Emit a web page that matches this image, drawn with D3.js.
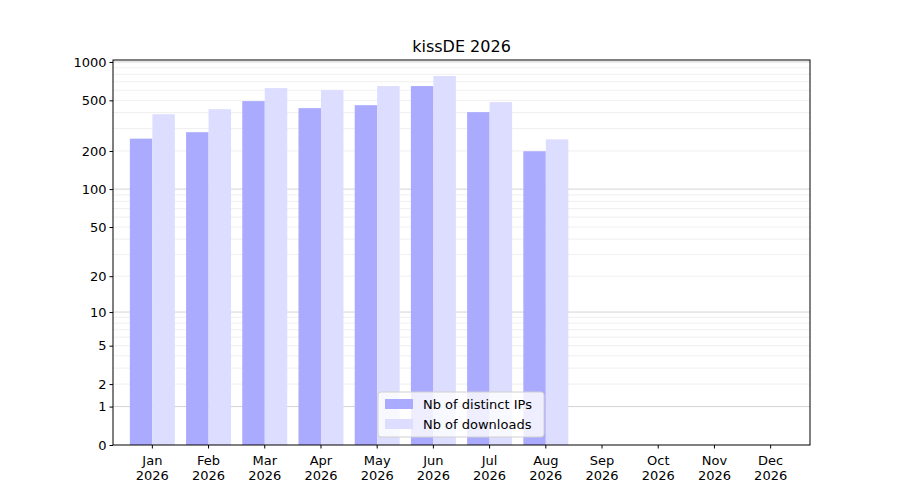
<!DOCTYPE html>
<html>
<head>
<meta charset="utf-8">
<script src="https://cdn.jsdelivr.net/npm/d3@7"></script>
<style>
body { margin: 0; background: #fff; }
text { font-family: "DejaVu Sans", sans-serif; }
</style>
</head>
<body>
<div id="chart-area"></div>
<script>
let data = [
	{month: "Jan", ips: 250, downloads: 389},
	{month: "Feb", ips: 281, downloads: 426},
	{month: "Mar", ips: 493, downloads: 624},
	{month: "Apr", ips: 434, downloads: 602},
	{month: "May", ips: 458, downloads: 647},
	{month: "Jun", ips: 647, downloads: 776},
	{month: "Jul", ips: 404, downloads: 484},
	{month: "Aug", ips: 199, downloads: 247},
	{month: "Sep", ips: 0, downloads: 0},
	{month: "Oct", ips: 0, downloads: 0},
	{month: "Nov", ips: 0, downloads: 0},
	{month: "Dec", ips: 0, downloads: 0}
];

let margin = {top: 60, right: 90, bottom: 55, left: 113},
	width = 900 - margin.left - margin.right,
	height = 500 - margin.top - margin.bottom;

let svg = d3.select("#chart-area").append("svg")
	.attr("width", 900)
	.attr("height", 500)
	.append("g")
	.attr("transform", "translate(" + margin.left + "," + margin.top + ")");

let x = d3.scaleBand()
	.domain(data.map(d => d.month))
	.range([0, width])
	.paddingInner(0.2)
	.paddingOuter(0.3);

let y = d3.scaleSymlog().constant(1)
	.domain([0, 1036])
	.range([height, 0]);

// Grid lines
let minor = [];
[1, 10, 100].forEach(b => { for (let k = 2; k <= 9; k++) minor.push(b * k); });
svg.selectAll(".minor").data(minor).enter().append("line")
	.attr("x1", 0).attr("x2", width)
	.attr("y1", d => y(d)).attr("y2", d => y(d))
	.attr("stroke", "#ebebeb").attr("stroke-width", 0.8);
svg.selectAll(".major").data([1, 10, 100, 1000]).enter().append("line")
	.attr("x1", 0).attr("x2", width)
	.attr("y1", d => y(d)).attr("y2", d => y(d))
	.attr("stroke", "#c8c8c8").attr("stroke-width", 0.8);

let bw = x.bandwidth() / 2;

svg.selectAll(".ips").data(data).enter().append("rect")
	.attr("x", d => x(d.month))
	.attr("y", d => y(d.ips))
	.attr("width", bw)
	.attr("height", d => height - y(d.ips))
	.attr("fill", "#aaaaff");

svg.selectAll(".dl").data(data).enter().append("rect")
	.attr("x", d => x(d.month) + bw)
	.attr("y", d => y(d.downloads))
	.attr("width", bw)
	.attr("height", d => height - y(d.downloads))
	.attr("fill", "#ddddff");

// Axes
let xAxis = svg.append("g")
	.attr("transform", "translate(0," + height + ")")
	.call(d3.axisBottom(x).tickSize(3.5).tickFormat(""));
xAxis.selectAll(".tick").append("text")
	.attr("fill", "#000").attr("font-size", 13).attr("text-anchor", "middle")
	.selectAll("tspan").data(d => [d, "2026"]).enter().append("tspan")
	.attr("x", 0).attr("y", (d, i) => 20 + i * 15).text(d => d);

svg.append("g")
	.call(d3.axisLeft(y).tickValues([0, 1, 2, 5, 10, 20, 50, 100, 200, 500, 1000]).tickSize(3.5).tickFormat(d3.format("d")))
	.selectAll("text").attr("font-size", 13).attr("fill", "#000");

svg.selectAll(".domain").remove();
svg.append("rect")
	.attr("width", width).attr("height", height)
	.attr("fill", "none").attr("stroke", "#000").attr("stroke-width", 1);

// Title
svg.append("text")
	.attr("x", width / 2).attr("y", -8)
	.attr("text-anchor", "middle").attr("font-size", 16)
	.text("kissDE 2026");

// Legend
let legend = svg.append("g").attr("transform", "translate(265,332)");
legend.append("rect")
	.attr("width", 166).attr("height", 45).attr("rx", 3)
	.attr("fill", "#fff").attr("fill-opacity", 0.8).attr("stroke", "#d0d0d0");
[["Nb of distinct IPs", "#aaaaff"], ["Nb of downloads", "#ddddff"]].forEach((e, i) => {
	legend.append("rect").attr("x", 7).attr("y", 7 + i * 20).attr("width", 28).attr("height", 10).attr("fill", e[1]);
	legend.append("text").attr("x", 45).attr("y", 17 + i * 20).attr("font-size", 13).text(e[0]);
});
</script>
</body>
</html>
